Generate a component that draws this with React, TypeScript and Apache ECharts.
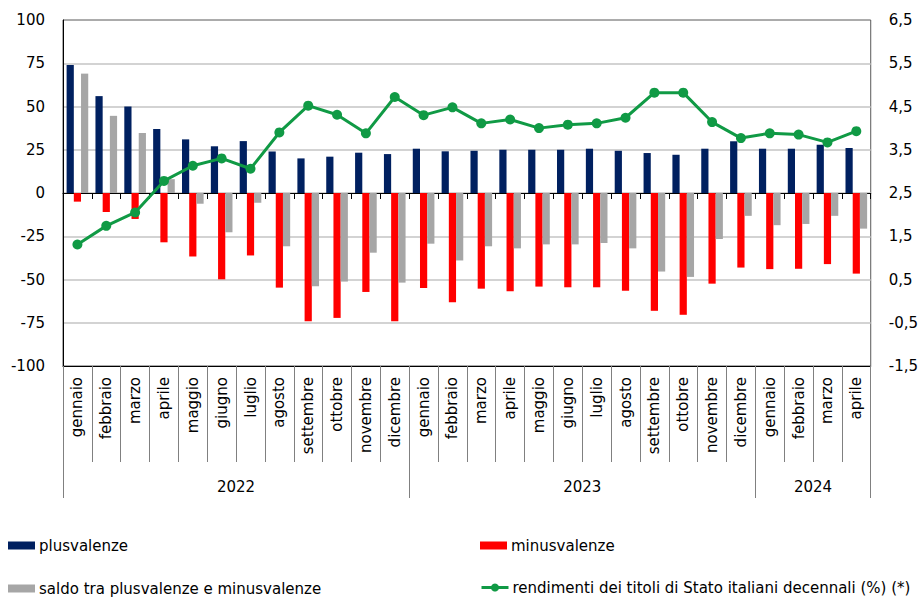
import React, { useEffect, useRef } from "react";
import * as echarts from "echarts";

const months = [
  "gennaio", "febbraio", "marzo", "aprile", "maggio", "giugno", "luglio", "agosto", "settembre", "ottobre", "novembre", "dicembre",
  "gennaio", "febbraio", "marzo", "aprile", "maggio", "giugno", "luglio", "agosto", "settembre", "ottobre", "novembre", "dicembre",
  "gennaio", "febbraio", "marzo", "aprile",
];
const years = ["2022", "2023", "2024"];
const yearSpans = [12, 12, 4];

const plusvalenze = [74, 56, 50, 37, 31, 27, 30, 24, 20, 21, 23.3, 22.5, 25.6, 24.1, 24.4, 25, 25, 25, 25.6, 24.4, 23.1, 22.1, 25.6, 29.9, 25.6, 25.6, 27.9, 26];
const minusvalenze = [-5, -11, -15, -28.5, -36.7, -49.9, -36.1, -54.7, -74.1, -72.2, -57.2, -74.1, -54.9, -63.2, -55.3, -56.8, -54.1, -54.5, -54.5, -56.5, -68.1, -70.4, -52.4, -43.1, -44, -43.8, -41.1, -46.6];
const saldo = [69, 44.6, 34.7, 8, -6.2, -22.7, -5.6, -30.8, -53.9, -51.2, -34.5, -51.8, -29.3, -39, -30.8, -32, -29.7, -29.7, -28.9, -32, -45.4, -48.5, -26.6, -13.2, -18.6, -17.9, -13.2, -20.6];
const rendimenti = [1.31, 1.74, 2.05, 2.78, 3.13, 3.3, 3.06, 3.9, 4.52, 4.31, 3.88, 4.72, 4.3, 4.48, 4.11, 4.2, 4.0, 4.08, 4.11, 4.24, 4.82, 4.82, 4.14, 3.77, 3.88, 3.85, 3.67, 3.93];

const leftTicks = [-100, -75, -50, -25, 0, 25, 50, 75, 100];
const rightTicks = [-1.5, -0.5, 0.5, 1.5, 2.5, 3.5, 4.5, 5.5, 6.5];

const names = {
  plus: "plusvalenze",
  minus: "minusvalenze",
  saldo: "saldo tra plusvalenze e minusvalenze",
  rend: "rendimenti dei titoli di Stato italiani decennali (%) (*)",
};

const FONT = "DejaVu Sans";
const GREEN = "#109a45";

export default function App() {
  const ref = useRef<HTMLDivElement>(null);
  useEffect(() => {
    if (!ref.current) return;
    const chart = echarts.init(ref.current, null, { renderer: "svg" });

    const boundaries: number[] = [0];
    const centers: number[] = [];
    let acc = 0;
    yearSpans.forEach((s) => {
      centers.push(acc + s / 2);
      acc += s;
      boundaries.push(acc);
    });

    const textStyle = { fontFamily: FONT, fontSize: 15, color: "#000" };
    const legendBase = {
      orient: "horizontal" as const,
      padding: 0,
      itemWidth: 27,
      itemHeight: 8,
      itemGap: 4,
      textStyle: { ...textStyle, padding: [0, 0, 0, -1] },
      selectedMode: false,
    };

    chart.setOption({
      animation: false,
      backgroundColor: "#fff",
      grid: { left: 63, right: 49, top: 20, bottom: 233, show: true, borderColor: "#595959", borderWidth: 1, backgroundColor: "transparent" },
      legend: [
        { ...legendBase, left: 8, top: 538, data: [{ name: names.plus, icon: "rect" }] },
        { ...legendBase, left: 480, top: 538, data: [{ name: names.minus, icon: "rect" }] },
        { ...legendBase, left: 8, top: 581, data: [{ name: names.saldo, icon: "rect" }] },
        {
          ...legendBase,
          left: 480,
          top: 580,
          itemHeight: 10,
          lineStyle: { width: 3, color: GREEN },
          itemStyle: { color: GREEN },
          data: [{ name: names.rend }],
        },
      ],
      xAxis: [
        {
          type: "category",
          data: months,
          position: "bottom",
          axisLine: { show: true, onZero: true, onZeroAxisIndex: 0, lineStyle: { color: "#000", width: 1 } },
          axisTick: { show: true, length: 6, interval: 0, lineStyle: { color: "#000" } },
          axisLabel: { show: false },
          splitLine: { show: false },
        },
        {
          type: "category",
          data: months,
          position: "bottom",
          axisLine: { show: true, onZero: false, lineStyle: { color: "#000", width: 1 } },
          axisTick: { show: true, length: 96, interval: 0, lineStyle: { color: "#808080" } },
          axisLabel: { show: true, interval: 0, rotate: 90, margin: 11, ...textStyle },
          splitLine: { show: false },
        },
        {
          type: "value",
          min: 0,
          max: months.length,
          position: "bottom",
          axisLine: { show: false, onZero: false },
          axisTick: { show: true, length: 132, customValues: boundaries, lineStyle: { color: "#808080" } },
          axisLabel: {
            show: true,
            customValues: centers,
            margin: 113,
            ...textStyle,
            formatter: (v: number) => {
              const i = centers.findIndex((c) => Math.abs(c - v) < 1e-6);
              return i >= 0 ? years[i] : "";
            },
          },
          splitLine: { show: false },
        },
      ],
      yAxis: [
        {
          type: "value",
          min: -100,
          max: 100,
          interval: 25,
          position: "left",
          axisLine: { show: true, lineStyle: { color: "#000" } },
          axisTick: { show: false },
          axisLabel: { margin: 18, ...textStyle, customValues: leftTicks },
          splitLine: { show: true, showMinLine: false, showMaxLine: false, lineStyle: { color: "#c4c4c4", width: 1.5 } },
        },
        {
          type: "value",
          min: -1.5,
          max: 6.5,
          position: "right",
          axisLine: { show: false },
          axisTick: { show: false },
          axisLabel: {
            margin: 18,
            ...textStyle,
            customValues: rightTicks,
            formatter: (v: number) => v.toFixed(1).replace(".", ","),
          },
          splitLine: { show: false },
        },
      ],
      series: [
        {
          name: names.plus,
          type: "bar",
          xAxisIndex: 0,
          yAxisIndex: 0,
          data: plusvalenze,
          itemStyle: { color: "#002060" },
          barGap: "0%",
          barCategoryGap: "25%",
        },
        {
          name: names.minus,
          type: "bar",
          xAxisIndex: 0,
          yAxisIndex: 0,
          data: minusvalenze,
          itemStyle: { color: "#ff0000" },
          barGap: "0%",
          barCategoryGap: "25%",
        },
        {
          name: names.saldo,
          type: "bar",
          xAxisIndex: 0,
          yAxisIndex: 0,
          data: saldo,
          itemStyle: { color: "#a6a6a6" },
          barGap: "0%",
          barCategoryGap: "25%",
        },
        {
          name: names.rend,
          type: "line",
          xAxisIndex: 0,
          yAxisIndex: 1,
          data: rendimenti,
          symbol: "circle",
          symbolSize: 10,
          z: 5,
          itemStyle: { color: GREEN },
          lineStyle: { color: GREEN, width: 3 },
        },
      ],
    });
    return () => chart.dispose();
  }, []);
  return <div ref={ref} style={{ position: "fixed", left: 0, top: 0, width: 921, height: 599 }} />;
}
